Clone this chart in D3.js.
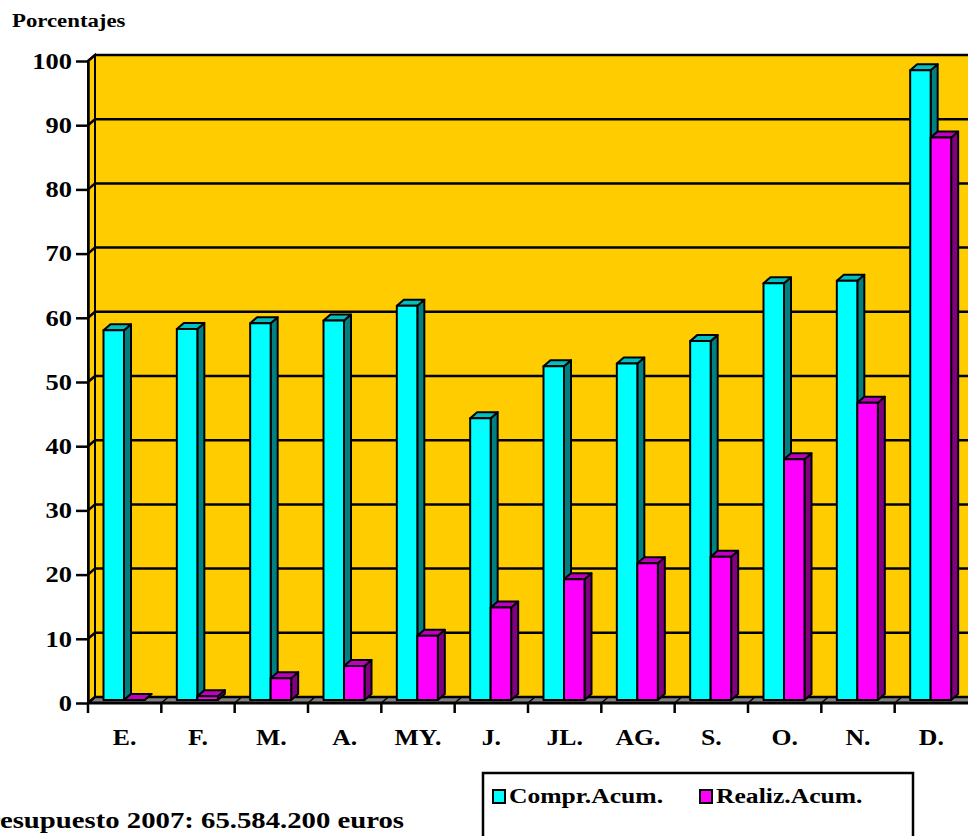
<!DOCTYPE html>
<html>
<head>
<meta charset="utf-8">
<script src="https://cdn.jsdelivr.net/npm/d3@7"></script>
<style>
  body { margin: 0; background: #fff; }
  svg { display: block; }
  text { font-family: "Liberation Serif", "Times New Roman", serif; font-weight: bold; fill: #000; }
</style>
</head>
<body>
<script>
// data
var months = ["E.", "F.", "M.", "A.", "MY.", "J.", "JL.", "AG.", "S.", "O.", "N.", "D."];
var series = ["Compr.Acum.", "Realiz.Acum."];
var compr = [57.6, 57.8, 58.7, 59.1, 61.4, 43.9, 52.0, 52.4, 55.9, 64.9, 65.3, 98.1];
var realiz = [0, 0.6, 3.4, 5.3, 10.0, 14.4, 18.8, 21.3, 22.3, 37.5, 46.3, 87.6];
var yTicks = [0, 10, 20, 30, 40, 50, 60, 70, 80, 90, 100];

var width = 968, height = 836;
var dx = 7, dy = 6;          // 3d depth
var colors = {
  "Compr.Acum.": { front: "#00ffff", side: "#008080", top: "#00c0c0" },
  "Realiz.Acum.": { front: "#ff00ff", side: "#800080", top: "#c000c0" }
};

var svg = d3.select("body").append("svg")
  .attr("width", width)
  .attr("height", height);

// the old chart font is drawn wider than Times, so stretch text sideways
function stretch(sel, sx){
  sel.each(function(){
    var t = d3.select(this);
    var tx = +t.attr("x") || 0, ty = +t.attr("y") || 0;
    t.attr("x", 0).attr("y", 0)
      .attr("transform", "translate(" + tx + "," + ty + ") scale(" + sx + ",1)");
  });
}

// scales: y is at mid depth (where the bars stand)
var y = d3.scaleLinear().domain([0, 100]).range([700, 58]);
var yFront = y.copy().range([703, 61]);
var x = d3.scaleBand().domain(months).range([88, 968]);
var xs = d3.scaleBand().domain(series).range([15.5, 56.5]);
var left = 88, right = 968;

//walls
svg.append("rect")
  .attr("x", left + dx).attr("y", yFront(100) - dy)
  .attr("width", right - left).attr("height", yFront(0) - yFront(100))
  .attr("fill", "#ffcc00");
svg.append("path")
  .attr("d", d3.line()([[left, yFront(0)], [left, yFront(100)], [left + dx, yFront(100) - dy], [left + dx, yFront(0) - dy]]) + "Z")
  .attr("fill", "#ffcc00").attr("stroke", "#000").attr("stroke-width", 2);
svg.append("path")
  .attr("d", d3.line()([[left, yFront(0)], [left + dx, yFront(0) - dy], [right + 5, yFront(0) - dy], [right + 5, yFront(0)]]) + "Z")
  .attr("fill", "#808080").attr("stroke", "#000").attr("stroke-width", 2);

// gridlines on side + back wall
svg.selectAll(".grid")
  .data(yTicks)
  .enter()
  .append("path")
  .attr("class", "grid")
  .attr("fill", "none").attr("stroke", "#000").attr("stroke-width", 2.5)
  .attr("d", function(v){
    return d3.line()([[left, yFront(v)], [left + dx, yFront(v) - dy], [right + 5, yFront(v) - dy]]);
  });

// floor lines at category boundaries
svg.selectAll(".floorline")
  .data(months.slice(1))
  .enter()
  .append("line")
  .attr("class", "floorline")
  .attr("x1", function(m){ return x(m); }).attr("y1", yFront(0))
  .attr("x2", function(m){ return x(m) + dx; }).attr("y2", yFront(0) - dy)
  .attr("stroke", "#000").attr("stroke-width", 1.5);

// bars
var rows = [];
months.forEach(function(m, i){
  rows.push({ month: m, key: series[0], value: compr[i] });
  rows.push({ month: m, key: series[1], value: realiz[i] });
});

var bars = svg.selectAll(".bar")
  .data(rows)
  .enter()
  .append("g")
  .attr("class", "bar");

bars.each(function(d){
  var g = d3.select(this);
  var x0 = x(d.month) + xs(d.key), w = xs.bandwidth();
  var top = y(d.value), base = y(0);
  var c = colors[d.key];
  g.append("path")
    .attr("d", d3.line()([[x0 + w, top], [x0 + w + dx, top - dy], [x0 + w + dx, base - dy], [x0 + w, base]]) + "Z")
    .attr("fill", c.side);
  g.append("path")
    .attr("d", d3.line()([[x0, top], [x0 + dx, top - dy], [x0 + w + dx, top - dy], [x0 + w, top]]) + "Z")
    .attr("fill", c.top);
  if (base - top > 0.5) {
    g.append("rect")
      .attr("x", x0).attr("y", top)
      .attr("width", w).attr("height", base - top)
      .attr("fill", c.front);
  }
  g.selectAll("path, rect")
    .attr("stroke", "#000").attr("stroke-width", 2).attr("stroke-linejoin", "round");
});

// y axis
var yAxis = svg.append("g")
  .attr("transform", "translate(" + left + ",0)")
  .call(d3.axisLeft(yFront).tickValues(yTicks).tickSize(12).tickPadding(4).tickSizeOuter(0));
yAxis.select(".domain").attr("stroke-width", 2.5);
yAxis.selectAll(".tick line").attr("stroke-width", 2.5);
yAxis.selectAll("text")
  .attr("font-size", 23)
  .attr("font-family", "Liberation Serif")
  .attr("font-weight", "bold");
stretch(yAxis.selectAll("text"), 1.15);

// x axis
svg.append("line")
  .attr("x1", left).attr("x2", right)
  .attr("y1", yFront(0)).attr("y2", yFront(0))
  .attr("stroke", "#000").attr("stroke-width", 3);
svg.selectAll(".xtick")
  .data(months)
  .enter()
  .append("line")
  .attr("class", "xtick")
  .attr("x1", function(m){ return x(m); }).attr("x2", function(m){ return x(m); })
  .attr("y1", yFront(0)).attr("y2", yFront(0) + 10)
  .attr("stroke", "#000").attr("stroke-width", 2.5);
var xLabels = svg.selectAll(".xlabel")
  .data(months)
  .enter()
  .append("text")
  .attr("class", "xlabel")
  .attr("x", function(m){ return x(m) + x.bandwidth() / 2; })
  .attr("y", 745)
  .attr("text-anchor", "middle")
  .attr("font-size", 23)
  .text(function(m){ return m; });
stretch(xLabels, 1.12);

// title
var title = svg.append("text")
  .attr("x", 12).attr("y", 27)
  .attr("font-size", 19)
  .text("Porcentajes");
stretch(title, 1.2);

// budget note
var note = svg.append("text")
  .attr("x", 404).attr("y", 828)
  .attr("text-anchor", "end")
  .attr("font-size", 23)
  .text("Presupuesto 2007: 65.584.200 euros");
stretch(note, 1.25);

// legend
var legend = svg.append("g");
legend.append("rect")
  .attr("x", 483).attr("y", 773)
  .attr("width", 430).attr("height", 90)
  .attr("fill", "#fff").attr("stroke", "#000").attr("stroke-width", 2.5);
var items = legend.selectAll(".item")
  .data(series)
  .enter()
  .append("g")
  .attr("class", "item")
  .attr("transform", function(d, i){ return "translate(" + (493 + i * 207) + ",790)"; });
items.append("rect")
  .attr("width", 12).attr("height", 13)
  .attr("fill", function(d){ return colors[d].front; })
  .attr("stroke", "#000").attr("stroke-width", 2);
var itemText = items.append("text")
  .attr("x", 16).attr("y", 13)
  .attr("font-size", 21)
  .text(function(d){ return d; });
stretch(itemText, 1.22);
</script>
</body>
</html>
